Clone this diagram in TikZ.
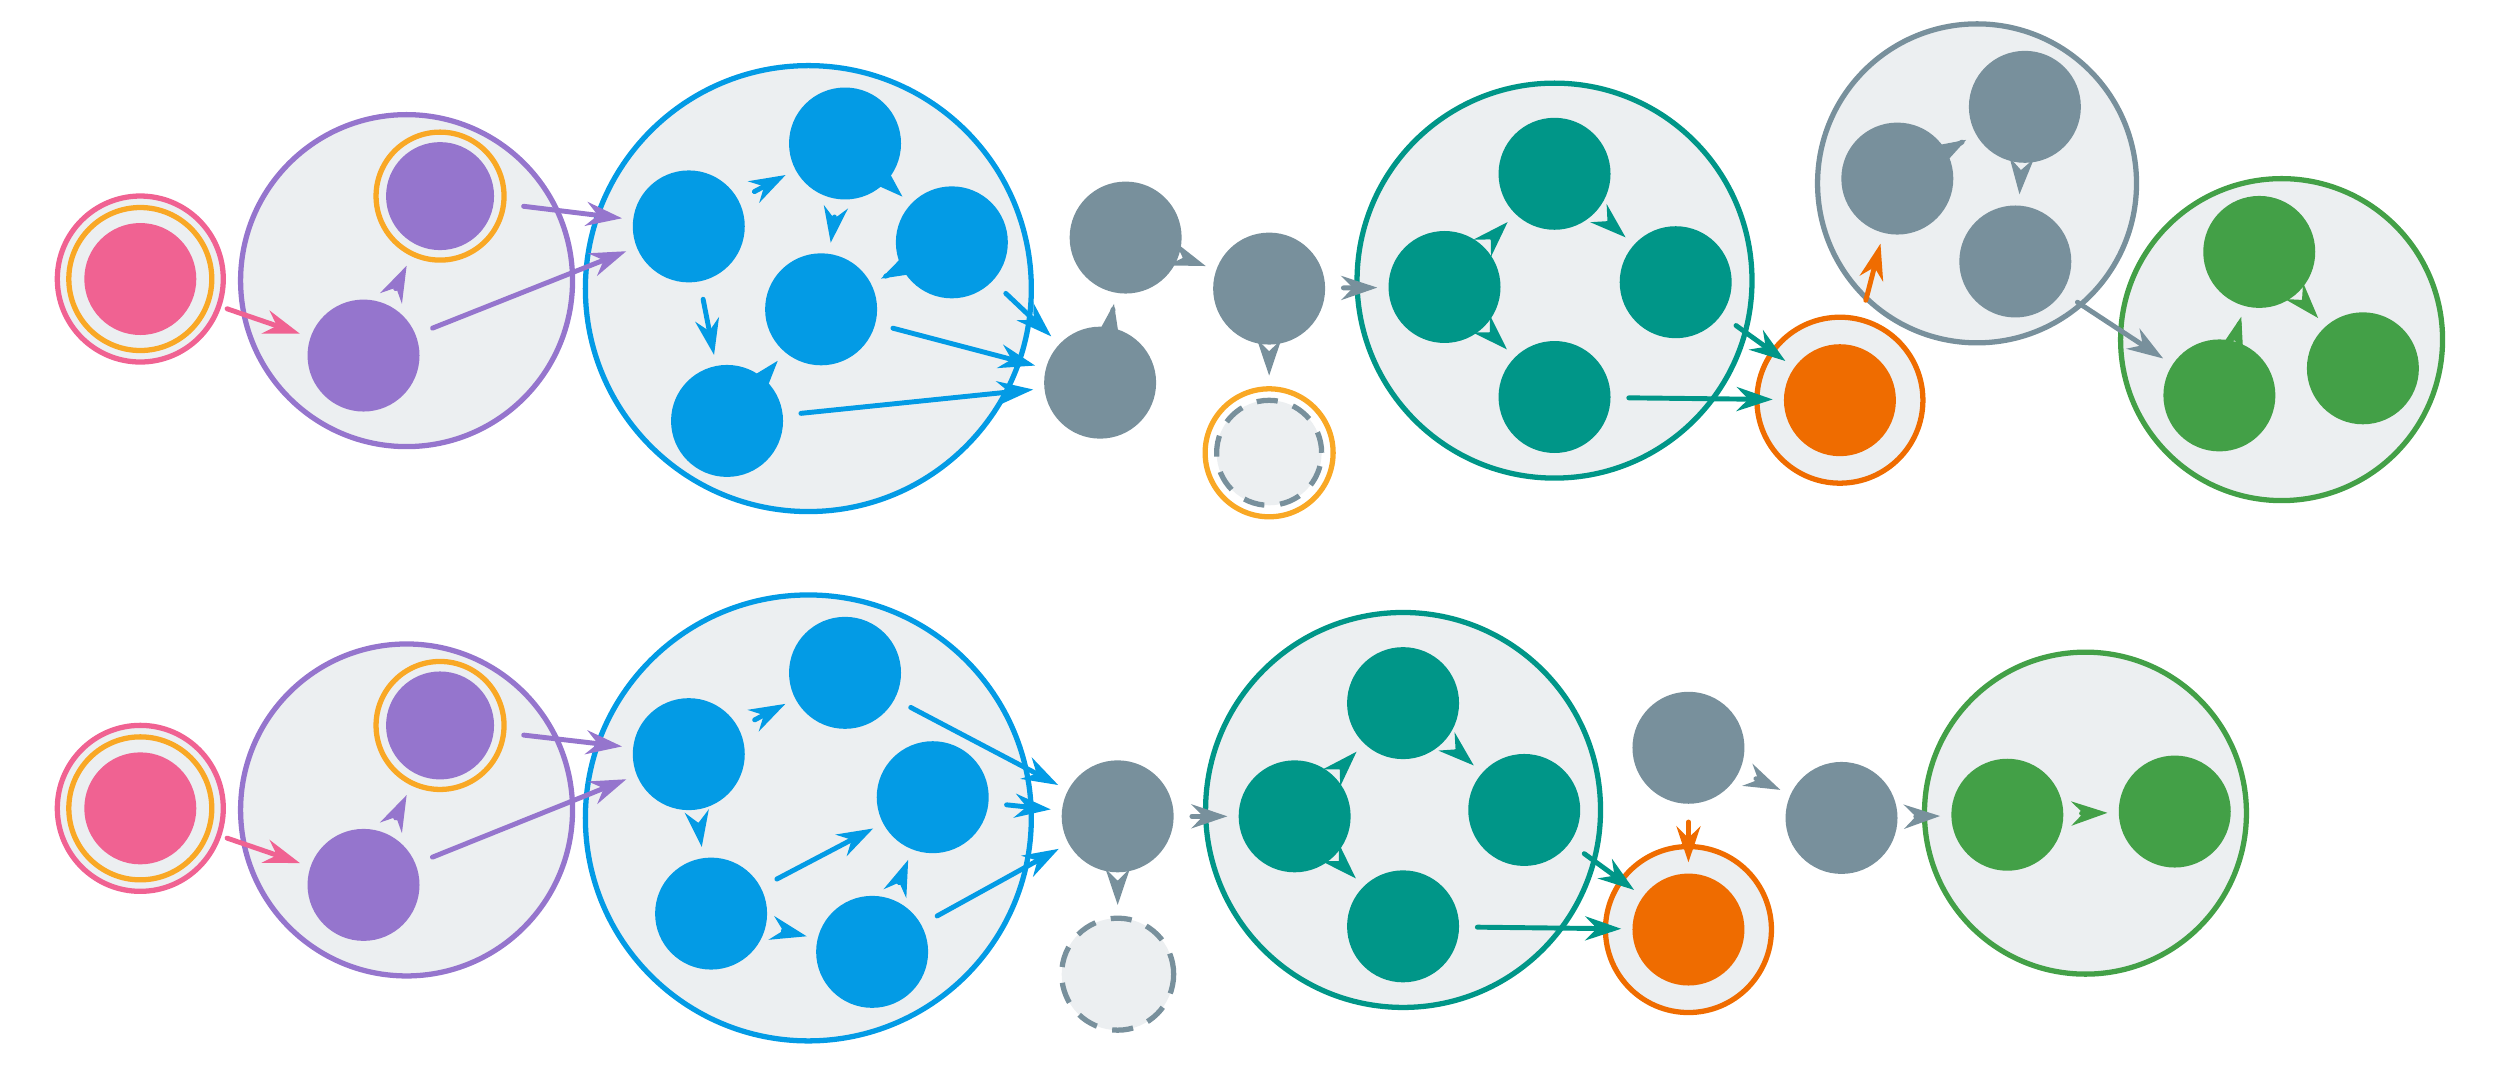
\documentclass[tikz,border=0pt]{standalone}
\usetikzlibrary{arrows.meta}
\definecolor{cpink}{HTML}{F06292}
\definecolor{cpurple}{HTML}{9575CD}
\definecolor{cblue}{HTML}{039BE5}
\definecolor{cgrey}{HTML}{78909C}
\definecolor{cteal}{HTML}{009688}
\definecolor{corange}{HTML}{EF6C00}
\definecolor{cgreen}{HTML}{43A047}
\definecolor{camber}{HTML}{F9A825}
\definecolor{cbg}{HTML}{ECEFF1}
\begin{document}
\begin{tikzpicture}[
  x=0.01594cm, y=-0.01594cm,
  cl/.style={circle, draw=#1, fill=cbg, line width=1.5pt, inner sep=0pt},
  nd/.style={circle, fill=#1, inner sep=0pt, minimum size=1.12cm},
  ring/.style={circle, draw=#1, line width=1.5pt, inner sep=0pt},
  hole/.style={circle, draw=cgrey, dash pattern=on 6pt off 4.5pt, line width=1.5pt, fill=cbg, inner sep=0pt, minimum size=1.05cm},
  arr/.style={-{Stealth[length=3.6mm,width=2.4mm]}, line width=1.4pt, line cap=round, draw=#1, shorten <=5pt, shorten >=3pt}
]
\useasboundingbox (0,0) rectangle (1568,672);

% top row - clusters
\node[cl=cpink, minimum size=1.66cm] (pinkA) at (88,175) {};
\node[cl=cpurple, minimum size=3.32cm] (purA) at (255,176) {};
\node[cl=cblue, minimum size=4.46cm] (bluA) at (507,181) {};
\node[cl=cteal, minimum size=3.95cm] (tealA) at (975,176) {};
\node[cl=cgrey, minimum size=3.19cm] (greyA) at (1240,115) {};
\node[cl=cgreen, minimum size=3.22cm] (grnA) at (1431,213) {};
\node[cl=corange, minimum size=1.66cm] (oraA) at (1154,251) {};

% top row - nodes
\node[ring=camber, minimum size=1.43cm] (pk1r) at (88,175) {};
\node[nd=cpink] (pk1) at (88,175) {};
\node[ring=camber, minimum size=1.28cm] (pu1r) at (276,123) {};
\node[nd=cpurple, minimum size=1.08cm] (pu1) at (276,123) {};
\node[nd=cpurple] (pu2) at (228,223) {};
\node[nd=cblue] (b1) at (432,142) {};
\node[nd=cblue] (b2) at (530,90) {};
\node[nd=cblue] (b3) at (597,152) {};
\node[nd=cblue] (b4) at (515,194) {};
\node[nd=cblue] (b5) at (456,264) {};
\node[nd=cgrey] (g1) at (706,149) {};
\node[nd=cgrey] (g2) at (690,240) {};
\node[nd=cgrey] (g3) at (796,181) {};
\node[circle, draw=camber, fill=white, line width=1.5pt, inner sep=0pt, minimum size=1.28cm] (hl1r) at (796,284) {};
\node[hole] (hl1) at (796,284) {};
\node[nd=cteal] (t1) at (975,109) {};
\node[nd=cteal] (t2) at (906,180) {};
\node[nd=cteal] (t3) at (1051,177) {};
\node[nd=cteal] (t4) at (975,249) {};
\node[nd=corange] (o1) at (1154,251) {};
\node[nd=cgrey] (h1) at (1270,67) {};
\node[nd=cgrey] (h2) at (1190,112) {};
\node[nd=cgrey] (h3) at (1264,164) {};
\node[nd=cgreen] (e1) at (1417,158) {};
\node[nd=cgreen] (e2) at (1392,248) {};
\node[nd=cgreen] (e3) at (1482,231) {};

% top row - connectors
\draw[arr=cpink] (pk1r) -- (pu2);
\draw[arr=cpurple] (pu2) -- (pu1r);
\draw[arr=cpurple] (pu1r) -- (b1);
\draw[arr=cpurple] (pu2) -- (b1);
\draw[arr=cblue] (b1) -- (b2);
\draw[arr=cblue] (b2) -- (b4);
\draw[arr=cblue] (b2) -- (b3);
\draw[arr=cblue] (b3) -- (b4);
\draw[arr=cblue] (b1) -- (b5);
\draw[arr=cblue] (b5) -- (b4);
\draw[arr=cblue] (b3) -- (g2);
\draw[arr=cblue] (b4) -- (g2);
\draw[arr=cblue] (b5) -- (g2);
\draw[arr=cgrey] (g2) -- (g1);
\draw[arr=cgrey] (g1) -- (g3);
\draw[arr=cgrey] (g3) -- (hl1r);
\draw[arr=cgrey] (g3) -- (t2);
\draw[arr=cteal] (t2) -- (t1);
\draw[arr=cteal] (t1) -- (t3);
\draw[arr=cteal] (t2) -- (t4);
\draw[arr=cteal] (t3) -- (o1);
\draw[arr=cteal] (t4) -- (o1);
\draw[arr=corange] (oraA) -- (h2);
\draw[arr=cgrey] (h2) -- (h1);
\draw[arr=cgrey] (h1) -- (h3);
\draw[arr=cgrey] (h3) -- (e2);
\draw[arr=cgreen] (e2) -- (e1);
\draw[arr=cgreen] (e1) -- (e3);

% bottom row - clusters
\node[cl=cpink, minimum size=1.66cm] (pinkB) at (88,507) {};
\node[cl=cpurple, minimum size=3.32cm] (purB) at (255,508) {};
\node[cl=cblue, minimum size=4.46cm] (bluB) at (507,513) {};
\node[cl=cteal, minimum size=3.95cm] (tealB) at (880,508) {};
\node[cl=cgreen, minimum size=3.22cm] (grnB) at (1308,510) {};
\node[cl=corange, minimum size=1.66cm] (oraB) at (1059,583) {};

% bottom row - nodes
\node[ring=camber, minimum size=1.43cm] (pk2r) at (88,507) {};
\node[nd=cpink] (pk2) at (88,507) {};
\node[ring=camber, minimum size=1.28cm] (pu3r) at (276,455) {};
\node[nd=cpurple, minimum size=1.08cm] (pu3) at (276,455) {};
\node[nd=cpurple] (pu4) at (228,555) {};
\node[nd=cblue] (c1) at (432,473) {};
\node[nd=cblue] (c2) at (530,422) {};
\node[nd=cblue] (c3) at (585,500) {};
\node[nd=cblue] (c4) at (446,573) {};
\node[nd=cblue] (c5) at (547,597) {};
\node[nd=cgrey] (k1) at (701,512) {};
\node[hole, minimum size=1.12cm] (hl2) at (701,611) {};
\node[nd=cteal] (u1) at (880,441) {};
\node[nd=cteal] (u2) at (812,512) {};
\node[nd=cteal] (u3) at (956,508) {};
\node[nd=cteal] (u4) at (880,581) {};
\node[nd=corange] (o2) at (1059,583) {};
\node[nd=cgrey] (m1) at (1059,469) {};
\node[nd=cgrey] (m2) at (1155,513) {};
\node[nd=cgreen] (f1) at (1259,511) {};
\node[nd=cgreen] (f2) at (1364,509) {};

% bottom row - connectors
\draw[arr=cpink] (pk2r) -- (pu4);
\draw[arr=cpurple] (pu4) -- (pu3r);
\draw[arr=cpurple] (pu3r) -- (c1);
\draw[arr=cpurple] (pu4) -- (c1);
\draw[arr=cblue] (c1) -- (c2);
\draw[arr=cblue] (c1) -- (c4);
\draw[arr=cblue] (c4) -- (c5);
\draw[arr=cblue] (c4) -- (c3);
\draw[arr=cblue] (c5) -- (c3);
\draw[arr=cblue] (c2) -- (k1);
\draw[arr=cblue] (c3) -- (k1);
\draw[arr=cblue] (c5) -- (k1);
\draw[arr=cgrey] (k1) -- (hl2);
\draw[arr=cgrey] (k1) -- (u2);
\draw[arr=cteal] (u2) -- (u1);
\draw[arr=cteal] (u1) -- (u3);
\draw[arr=cteal] (u2) -- (u4);
\draw[arr=cteal] (u3) -- (o2);
\draw[arr=cteal] (u4) -- (o2);
\draw[arr=corange] (m1) -- (o2);
\draw[arr=cgrey] (m1) -- (m2);
\draw[arr=cgrey] (m2) -- (f1);
\draw[arr=cgreen] (f1) -- (f2);
\end{tikzpicture}
\end{document}
